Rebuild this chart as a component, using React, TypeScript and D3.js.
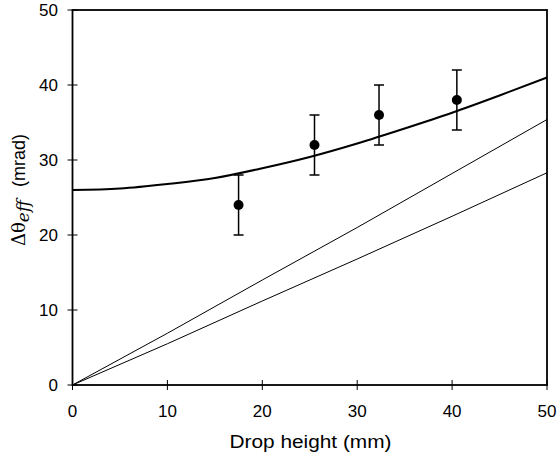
import { useEffect, useRef } from 'react';
import * as d3 from 'd3';

// measured points with error bars
const dropHeights = [17.5, 25.5, 32.3, 40.5];
const thetaValues = [24, 32, 36, 38];
const thetaErrors = [4, 4, 4, 4];

// model curve (thick)
const curveX = [0, 5, 10, 15, 20, 25, 30, 35, 40, 45, 50];
const curveY = [26, 26.2, 26.8, 27.6, 28.9, 30.4, 32.2, 34.2, 36.3, 38.6, 41];

// two straight-ish lines (thin)
const upperX = [0, 10, 20, 30, 40, 50];
const upperY = [0, 6.9, 14.0, 21.0, 28.2, 35.4];
const lowerX = [0, 10, 20, 30, 40, 50];
const lowerY = [0, 5.5, 11.2, 16.8, 22.5, 28.3];

const xTicks = [0, 10, 20, 30, 40, 50];
const yTicks = [0, 10, 20, 30, 40, 50];

export default function App() {
  const svgRef = useRef<SVGSVGElement>(null);

  useEffect(() => {
    const svg = d3.select(svgRef.current);
    svg.selectAll('*').remove();

    const left = 72.5, right = 547, top = 10, bottom = 385;
    const x = d3.scaleLinear().domain([0, 50]).range([left, right]);
    const y = d3.scaleLinear().domain([0, 50]).range([bottom, top]);
    const font = 'Liberation Sans, Arial, sans-serif';

    // frame
    svg.append('rect')
      .attr('x', left).attr('y', top)
      .attr('width', right - left).attr('height', bottom - top)
      .attr('fill', 'none').attr('stroke', '#000').attr('stroke-width', 1.8);

    // ticks crossing the axes
    const g = svg.append('g');
    xTicks.forEach(t => {
      g.append('line')
        .attr('x1', x(t)).attr('x2', x(t))
        .attr('y1', bottom - 5).attr('y2', bottom + 5)
        .attr('stroke', '#000').attr('stroke-width', 1);
      g.append('text')
        .attr('x', x(t)).attr('y', bottom + 32)
        .attr('text-anchor', 'middle')
        .style('font-family', font).style('font-size', '17px')
        .text(t);
    });
    yTicks.forEach(t => {
      g.append('line')
        .attr('x1', left - 5).attr('x2', left + 5)
        .attr('y1', y(t)).attr('y2', y(t))
        .attr('stroke', '#000').attr('stroke-width', 1);
      g.append('text')
        .attr('x', 58).attr('y', y(t) + 6)
        .attr('text-anchor', 'end')
        .style('font-family', font).style('font-size', '17px')
        .text(t);
    });

    const line = d3.line<[number, number]>()
      .x(d => x(d[0]))
      .y(d => y(d[1]));

    svg.append('path')
      .datum(upperX.map((v, i) => [v, upperY[i]] as [number, number]))
      .attr('d', line)
      .attr('fill', 'none').attr('stroke', '#000').attr('stroke-width', 1);

    svg.append('path')
      .datum(lowerX.map((v, i) => [v, lowerY[i]] as [number, number]))
      .attr('d', line)
      .attr('fill', 'none').attr('stroke', '#000').attr('stroke-width', 1);

    svg.append('path')
      .datum(curveX.map((v, i) => [v, curveY[i]] as [number, number]))
      .attr('d', line.curve(d3.curveMonotoneX))
      .attr('fill', 'none').attr('stroke', '#000').attr('stroke-width', 2);

    // error bars + points
    dropHeights.forEach((h, i) => {
      const cx = x(h);
      const lo = y(thetaValues[i] - thetaErrors[i]);
      const hi = y(thetaValues[i] + thetaErrors[i]);
      svg.append('line')
        .attr('x1', cx).attr('x2', cx).attr('y1', lo).attr('y2', hi)
        .attr('stroke', '#000').attr('stroke-width', 1.5);
      [lo, hi].forEach(yy => {
        svg.append('line')
          .attr('x1', cx - 5).attr('x2', cx + 5).attr('y1', yy).attr('y2', yy)
          .attr('stroke', '#000').attr('stroke-width', 1.5);
      });
      svg.append('circle')
        .attr('cx', cx).attr('cy', y(thetaValues[i]))
        .attr('r', 5).attr('fill', '#000');
    });

    // axis titles
    svg.append('text')
      .attr('x', 310.5).attr('y', 448)
      .attr('text-anchor', 'middle')
      .attr('textLength', 162)
      .attr('lengthAdjust', 'spacingAndGlyphs')
      .style('font-family', font).style('font-size', '18px')
      .text('Drop height (mm)');

    const yl = svg.append('text')
      .attr('transform', `translate(25, 246) rotate(-90)`)
      .attr('text-anchor', 'start');
    yl.append('tspan').style('font-family', 'DejaVu Serif, serif')
      .style('font-size', '18px').text('Δθ');
    yl.append('tspan').attr('dy', 4).style('font-style', 'italic')
      .style('font-family', 'DejaVu Serif, serif').style('font-size', '17px').text('eff');
    yl.append('tspan').attr('dy', -4).attr('dx', 13)
      .style('font-family', font).style('font-size', '18px').text('(mrad)');
  }, []);

  return (
    <svg ref={svgRef} width={560} height={456}
      style={{ position: 'absolute', left: 0, top: 0, background: '#fff' }} />
  );
}
